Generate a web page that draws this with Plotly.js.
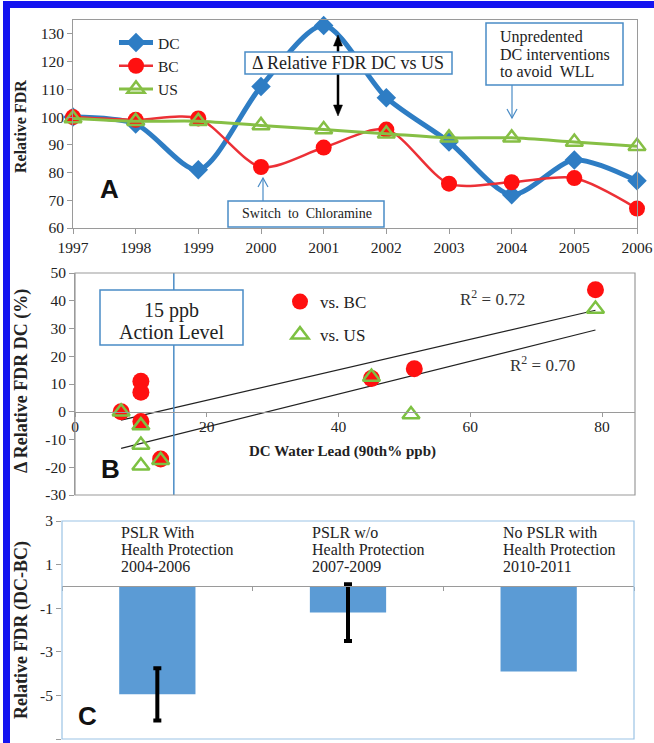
<!DOCTYPE html>
<html>
<head>
<meta charset="utf-8">
<script src="https://cdn.plot.ly/plotly-3.0.1.min.js"></script>
<style>
  html, body { margin: 0; padding: 0; background: #ffffff; }
  #chart { width: 654px; height: 743px; }
</style>
</head>
<body>
<div id="chart"></div>
<script>
// ---- Panel A: relative fetal death rate by year ----
const years = [1997, 1998, 1999, 2000, 2001, 2002, 2003, 2004, 2005, 2006];
const fdrDC = [100, 97.5, 81, 111, 133, 107, 91, 72, 84.5, 77];
const fdrBC = [100, 99, 99.5, 82, 89, 95.5, 76, 76.5, 78, 67];
const fdrUS = [99.5, 98.5, 98.5, 97, 95.5, 94, 92.5, 92.5, 91, 89.5];
const fdrTicks = [60, 70, 80, 90, 100, 110, 120, 130];

// ---- Panel B: change in relative FDR vs DC water lead ----
const leadBC = [7, 10, 10, 10, 13, 45, 51.5, 79];
const deltaBC = [0, 11, 7, -3.5, -17, 12, 15.5, 44];
const leadUS = [7, 10, 10, 10, 13, 45, 51, 79];
const deltaUS = [0, -5, -12, -19.5, -17.5, 12.5, -1, 37];
const leadTicks = [0, 20, 40, 60, 80];
const deltaTicks = [-30, -20, -10, 0, 10, 20, 30, 40, 50];
const actionLevel = 15;
const r2Labels = ['R<sup>2</sup> = 0.72', 'R<sup>2</sup> = 0.70'];

// ---- Panel C: DC-BC difference by period ----
const periods = ['2004-2006', '2007-2009', '2010-2011'];
const periodLabels = [
  ['PSLR With', 'Health Protection', '2004-2006'],
  ['PSLR w/o', 'Health Protection', '2007-2009'],
  ['No PSLR with', 'Health Protection', '2010-2011']
];
const diffDCBC = [-4.95, -1.2, -3.9];
const diffErr = [1.2, 1.3, NaN];
const diffTicks = [3, 1, -1, -3, -5, -7];

// page geometry helpers (pixel -> paper fraction)
const W = 654, H = 743;
const px = v => v / W;
const py = v => 1 - v / H;

const serif = 'Liberation Serif, Times New Roman, serif';
const sans = 'Liberation Sans, Arial, sans-serif';
const blueBox = '#4A8CC6';
const frameGray = '#9a9a9a';

// least-squares trend line from a point set
function trend(xs, ys) {
  const n = xs.length;
  const mx = xs.reduce((a, b) => a + b, 0) / n;
  const my = ys.reduce((a, b) => a + b, 0) / n;
  let sxy = 0, sxx = 0;
  for (let i = 0; i < n; i++) { sxy += (xs[i] - mx) * (ys[i] - my); sxx += (xs[i] - mx) ** 2; }
  const b = sxy / sxx, a = my - b * mx;
  const x0 = Math.min(...xs), x1 = Math.max(...xs);
  return { x: [x0, x1], y: [a + b * x0, a + b * x1] };
}
const fitBC = trend(leadBC, deltaBC);
const fitUS = trend(leadUS, deltaUS);

const traces = [
  // A
  { x: years, y: fdrDC, name: 'DC', type: 'scatter', mode: 'lines+markers', xaxis: 'x', yaxis: 'y',
    line: { color: '#2E7DC4', width: 5, shape: 'spline', smoothing: 0.8 },
    marker: { symbol: 'diamond', size: 15, color: '#2E7DC4' }, cliponaxis: false, legend: 'legend' },
  { x: years, y: fdrBC, name: 'BC', type: 'scatter', mode: 'lines+markers', xaxis: 'x', yaxis: 'y',
    line: { color: '#EC3036', width: 2.5, shape: 'spline', smoothing: 0.8 },
    marker: { symbol: 'circle', size: 16, color: '#FF1010' }, cliponaxis: false, legend: 'legend' },
  { x: years, y: fdrUS, name: 'US', type: 'scatter', mode: 'lines+markers', xaxis: 'x', yaxis: 'y',
    line: { color: '#86BF45', width: 3, shape: 'spline', smoothing: 0.8 },
    marker: { symbol: 'triangle-up-open', size: 15, color: '#86BF45', line: { width: 2.5, color: '#86BF45' } },
    cliponaxis: false, legend: 'legend' },

  // B trend lines
  { x: fitBC.x, y: fitBC.y, type: 'scatter', mode: 'lines', xaxis: 'x2', yaxis: 'y2',
    line: { color: '#222', width: 1.2 }, showlegend: false, hoverinfo: 'skip' },
  { x: fitUS.x, y: fitUS.y, type: 'scatter', mode: 'lines', xaxis: 'x2', yaxis: 'y2',
    line: { color: '#222', width: 1.2 }, showlegend: false, hoverinfo: 'skip' },
  // B action level
  { x: [actionLevel, actionLevel], y: [deltaTicks[0], deltaTicks[deltaTicks.length - 1]], type: 'scatter', mode: 'lines',
    xaxis: 'x2', yaxis: 'y2', line: { color: '#4A8CC6', width: 1.5 }, showlegend: false, hoverinfo: 'skip' },
  // B points
  { x: leadBC, y: deltaBC, name: 'vs. BC', type: 'scatter', mode: 'markers', xaxis: 'x2', yaxis: 'y2',
    marker: { symbol: 'circle', size: 17, color: '#FF1010' }, cliponaxis: false, legend: 'legend2', legendgroup: 'bc' },
  { x: leadUS, y: deltaUS, name: 'vs. US', type: 'scatter', mode: 'markers', xaxis: 'x2', yaxis: 'y2',
    marker: { symbol: 'triangle-up-open', size: 15, color: '#7DC142', line: { width: 2.5, color: '#7DC142' } },
    cliponaxis: false, legend: 'legend2', legendgroup: 'us' },

  // C
  { x: periods, y: diffDCBC, type: 'bar', xaxis: 'x3', yaxis: 'y3', width: 0.4,
    marker: { color: '#5B9BD5' }, showlegend: false,
    error_y: { type: 'data', array: diffErr, visible: true, color: '#000', thickness: 4, width: 4 } }
];

// B and C category axes sit on the zero line
const yB0 = py(495), yB1 = py(273);
const zeroB = yB0 + (0 - deltaTicks[0]) / (deltaTicks[deltaTicks.length - 1] - deltaTicks[0]) * (yB1 - yB0);
const yC0 = py(739), yC1 = py(521);
const zeroC = yC0 + (0 - (-7)) / (3 - (-7)) * (yC1 - yC0);

const tickFont = { family: serif, size: 15.5, color: '#222' };

const annotations = [];
function note(text, x, y, size, opts) {
  annotations.push(Object.assign({ xref: 'paper', yref: 'paper', x: px(x), y: py(y), text: text, showarrow: false,
    xanchor: 'center', yanchor: 'middle', font: { family: serif, size: size, color: '#222' } }, opts || {}));
}
// axis titles
note('<b>Relative FDR</b>', 21, 127, 16, { textangle: -90 });
note('<b>Δ Relative FDR DC (%)</b>', 21, 381, 18, { textangle: -90 });
note('<b>DC Water Lead (90th% ppb)</b>', 342, 451, 15);
note('<b>Relative FDR (DC-BC)</b>', 21, 630, 18, { textangle: -90 });

// panel letters
[['A', 109, 189], ['B', 110, 469], ['C', 88, 716]].forEach(([t, x, y]) =>
  note('<b>' + t + '</b>', x, y, 26, { font: { family: sans, size: 26, color: '#111' } }));

// Panel A notes
note('Δ Relative FDR DC vs US', 348, 63, 18);
['Unpredented', 'DC interventions', 'to avoid  WLL'].forEach((t, i) =>
  note(t, 498, 37 + 17 * i, 16, { xanchor: 'left' }));
note('Switch  to  Chloramine', 307, 214, 14);

// Panel B notes
note('15 ppb', 171, 310, 20);
note('Action Level', 171, 332, 20);
note(r2Labels[0], 492, 298, 17, { font: { family: serif, size: 17, color: '#333' } });
note(r2Labels[1], 542, 364, 17, { font: { family: serif, size: 17, color: '#333' } });

// Panel C category labels, left-aligned with each bar
periodLabels.forEach((lines, i) => lines.forEach((t, j) => annotations.push({
  xref: 'x3', yref: 'paper', x: i - 0.2, y: py(532 + 17 * j), xanchor: 'left', yanchor: 'middle', text: t,
  showarrow: false, font: { family: serif, size: 16, color: '#222' } })));

// arrow helpers (pixel coordinates -> paper path)
const P = (x, y) => px(x) + ',' + py(y);
function line(x0, y0, x1, y1, color, width) {
  return { type: 'line', xref: 'paper', yref: 'paper', layer: 'above', x0: px(x0), y0: py(y0), x1: px(x1), y1: py(y1),
    line: { color: color, width: width } };
}

const shapes = [
  // page border
  { type: 'rect', xref: 'paper', yref: 'paper', x0: px(3), x1: px(654), y0: py(8), y1: py(1), fillcolor: '#1414F0', line: { width: 0 } },
  { type: 'rect', xref: 'paper', yref: 'paper', x0: px(3), x1: px(10), y0: py(743), y1: py(1), fillcolor: '#1414F0', line: { width: 0 } },
  // B and C plot frames
  { type: 'rect', xref: 'x2 domain', yref: 'y2 domain', x0: 0, x1: 1, y0: 0, y1: 1, line: { color: frameGray, width: 1.2 } },
  { type: 'rect', xref: 'x3 domain', yref: 'y3 domain', x0: 0, x1: 1, y0: 0, y1: 1, line: { color: '#9CC3E5', width: 1.2 } },
  // double-headed black arrow (DC peak vs US)
  line(338, 44, 338, 107, '#000', 2.5),
  { type: 'path', xref: 'paper', yref: 'paper', layer: 'above', path: 'M' + P(338, 35) + 'L' + P(333.5, 46) + 'L' + P(342.5, 46) + 'Z',
    fillcolor: '#000', line: { color: '#000', width: 0.5 } },
  { type: 'path', xref: 'paper', yref: 'paper', layer: 'above', path: 'M' + P(338, 116) + 'L' + P(333.5, 105) + 'L' + P(342.5, 105) + 'Z',
    fillcolor: '#000', line: { color: '#000', width: 0.5 } },
  // note boxes
  { type: 'rect', xref: 'paper', yref: 'paper', layer: 'above', x0: px(245), x1: px(452), y0: py(74), y1: py(52),
    fillcolor: '#fff', line: { color: blueBox, width: 1.5 } },
  { type: 'rect', xref: 'paper', yref: 'paper', layer: 'above', x0: px(486), x1: px(623), y0: py(85), y1: py(23),
    fillcolor: '#fff', line: { color: blueBox, width: 1.5 } },
  { type: 'rect', xref: 'paper', yref: 'paper', layer: 'above', x0: px(228), x1: px(384), y0: py(227), y1: py(201),
    fillcolor: '#fff', line: { color: blueBox, width: 1.5 } },
  { type: 'rect', xref: 'paper', yref: 'paper', layer: 'above', x0: px(100), x1: px(243), y0: py(345), y1: py(290),
    fillcolor: '#fff', line: { color: blueBox, width: 1.5 } },
  // thin blue pointer arrows
  line(512, 85, 512, 118, blueBox, 1.2),
  { type: 'path', xref: 'paper', yref: 'paper', layer: 'above', path: 'M' + P(507, 109) + 'L' + P(512, 118) + 'L' + P(517, 109),
    line: { color: blueBox, width: 1.2 } },
  line(263, 201, 263, 178, blueBox, 1.2),
  { type: 'path', xref: 'paper', yref: 'paper', layer: 'above', path: 'M' + P(258, 187) + 'L' + P(263, 178) + 'L' + P(268, 187),
    line: { color: blueBox, width: 1.2 } }
];

const layout = {
  width: W, height: H,
  margin: { l: 0, r: 0, t: 0, b: 0 },
  paper_bgcolor: '#fff', plot_bgcolor: '#fff',
  showlegend: true,
  legend: { x: px(114), y: py(26), xanchor: 'left', yanchor: 'top', bgcolor: 'rgba(0,0,0,0)',
    font: { family: serif, size: 15.5, color: '#222' }, tracegroupgap: 0, itemwidth: 34 },
  legend2: { x: px(280), y: py(284), xanchor: 'left', yanchor: 'top', bgcolor: 'rgba(0,0,0,0)',
    font: { family: serif, size: 17, color: '#222' }, itemwidth: 30, traceorder: 'grouped', tracegroupgap: 8 },
  xaxis: { domain: [px(73), px(637)], anchor: 'y', range: [1997, 2006], tickvals: years, ticks: 'outside', ticklen: 5,
    tickcolor: frameGray, showline: true, linecolor: frameGray, mirror: true, showgrid: false, zeroline: false, tickfont: tickFont },
  yaxis: { domain: [py(228), py(20)], anchor: 'x', range: [60, 135], tickvals: fdrTicks, ticks: 'outside', ticklen: 5,
    tickcolor: frameGray, showline: true, linecolor: frameGray, mirror: true, showgrid: false, zeroline: false, tickfont: tickFont },
  xaxis2: { domain: [px(75), px(635)], anchor: 'free', position: zeroB, range: [0, 85], tickvals: leadTicks, ticks: 'outside',
    ticklen: 4, ticklabelstandoff: -3, tickcolor: frameGray, showline: true, linecolor: frameGray, showgrid: false,
    zeroline: false, tickfont: tickFont },
  yaxis2: { domain: [yB0, yB1], anchor: 'x2', range: [-30, 50], tickvals: deltaTicks, ticktext: deltaTicks.map(String),
    ticks: 'outside', ticklen: 5, tickcolor: frameGray, showline: true, linecolor: frameGray, showgrid: false,
    zeroline: false, tickfont: tickFont },
  xaxis3: { domain: [px(62), px(634)], anchor: 'free', position: zeroC, type: 'category', showticklabels: false,
    ticks: 'outside', tickson: 'boundaries', ticklen: 4, tickcolor: frameGray, showline: true, linecolor: frameGray,
    showgrid: false, zeroline: false },
  yaxis3: { domain: [yC0, yC1], anchor: 'x3', range: [-7, 3], tickvals: diffTicks, ticktext: diffTicks.map(String),
    ticks: 'outside', ticklen: 5, tickcolor: frameGray, showline: false, showgrid: false, zeroline: false, tickfont: tickFont },
  bargap: 0.6,
  shapes: shapes,
  annotations: annotations
};

Plotly.newPlot('chart', traces, layout, { displayModeBar: false, staticPlot: true });
</script>
</body>
</html>
